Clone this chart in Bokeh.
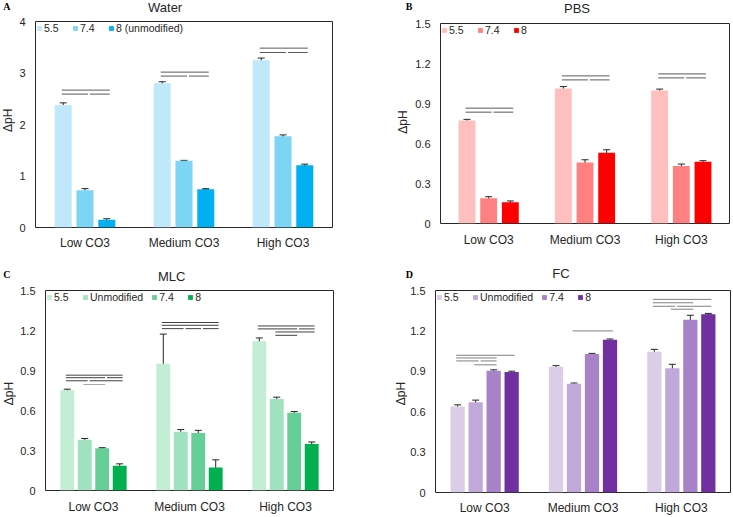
import math
from bokeh.plotting import figure
from bokeh.models import (Range1d, FixedTicker, Whisker, TeeHead, ColumnDataSource,
                          Legend, LegendItem)
from bokeh.core.properties import value
from bokeh.layouts import column, row
from bokeh.embed import file_html
from bokeh.resources import INLINE

categories = ["Low CO3", "Medium CO3", "High CO3"]

# ---------------- Panel A: Water ----------------
water_labels = ["5.5", "7.4", "8 (unmodified)"]
water_55 = [2.38, 2.80, 3.25]
water_74 = [0.725, 1.294, 1.773]
water_8 = [0.15, 0.744, 1.21]
water_55_err = [0.04, 0.03, 0.04]
water_74_err = [0.03, 0.01, 0.025]
water_8_err = [0.02, 0.01, 0.02]
water_ticks = [0, 1, 2, 3, 4]
water_tick_labels = ["0", "1", "2", "3", "4"]
# (group, from series, to series, y, light)
water_sig = [(0, 0, 2, 2.668, 0), (0, 0, 1, 2.59, 0), (0, 1, 2, 2.59, 0),
             (1, 0, 2, 3.017, 0), (1, 0, 1, 2.94, 0), (1, 1, 2, 2.94, 0),
             (2, 0, 2, 3.483, 0), (2, 0, 1, 3.398, 0), (2, 1, 2, 3.398, 0)]

# ---------------- Panel B: PBS ----------------
pbs_labels = ["5.5", "7.4", "8"]
pbs_55 = [0.772, 1.012, 0.997]
pbs_74 = [0.189, 0.458, 0.431]
pbs_8 = [0.159, 0.531, 0.463]
pbs_55_err = [0.009, 0.015, 0.011]
pbs_74_err = [0.012, 0.02, 0.015]
pbs_8_err = [0.01, 0.022, 0.008]
pbs_sig = [(0, 0, 2, 0.865, 0), (0, 0, 1, 0.835, 0), (0, 1, 2, 0.835, 0),
           (1, 0, 2, 1.107, 0), (1, 0, 1, 1.077, 0), (1, 1, 2, 1.077, 0),
           (2, 0, 2, 1.122, 0), (2, 0, 1, 1.092, 0), (2, 1, 2, 1.092, 0)]

# ---------------- Panel C: MLC ----------------
mlc_labels = ["5.5", "Unmodified", "7.4", "8"]
mlc_55 = [0.752, 0.951, 1.119]
mlc_unmod = [0.381, 0.441, 0.687]
mlc_74 = [0.316, 0.431, 0.584]
mlc_8 = [0.186, 0.173, 0.349]
mlc_55_err = [0.008, 0.222, 0.025]
mlc_unmod_err = [0.009, 0.016, 0.013]
mlc_74_err = [0.005, 0.02, 0.008]
mlc_8_err = [0.014, 0.057, 0.015]
mlc_sig = [(0, 0, 3, 0.865, 0), (0, 0, 2, 0.846, 0), (0, 2, 3, 0.846, 0),
           (0, 0, 1, 0.823, 0), (0, 1, 3, 0.823, 0), (0, 1, 2, 0.795, 1),
           (1, 0, 3, 1.26, 0), (1, 0, 3, 1.239, 0), (1, 0, 1, 1.214, 0),
           (1, 1, 2, 1.214, 0), (1, 2, 3, 1.214, 0),
           (2, 0, 3, 1.234, 0), (2, 0, 2, 1.212, 0), (2, 2, 3, 1.212, 0),
           (2, 1, 3, 1.189, 0), (2, 1, 2, 1.164, 0)]

# ---------------- Panel D: FC ----------------
fc_labels = ["5.5", "Unmodified", "7.4", "8"]
fc_55 = [0.639, 0.934, 1.046]
fc_unmod = [0.671, 0.807, 0.922]
fc_74 = [0.905, 1.029, 1.283]
fc_8 = [0.895, 1.134, 1.324]
fc_55_err = [0.012, 0.008, 0.017]
fc_unmod_err = [0.015, 0.006, 0.03]
fc_74_err = [0.006, 0.004, 0.033]
fc_8_err = [0.006, 0.006, 0.006]
fc_sig = [(0, 0, 3, 1.019, 0), (0, 0, 2, 0.999, 0), (0, 0, 1, 0.977, 0),
          (0, 1, 2, 0.977, 0), (0, 1, 2, 0.948, 0),
          (1, 1, 3, 1.200, 0),
          (2, 0, 3, 1.434, 0), (2, 0, 2, 1.409, 0), (2, 0, 1, 1.383, 0),
          (2, 1, 3, 1.383, 0), (2, 1, 2, 1.361, 0)]

ratio_ticks = [0, 0.3, 0.6, 0.9, 1.2, 1.5]
ratio_tick_labels = ["0", "0.3", "0.6", "0.9", "1.2", "1.5"]

FONT = "Liberation Sans"
TXT = "#262626"


def strip(width, height):
    s = figure(width=width, height=height, x_range=Range1d(0, width), y_range=Range1d(0, height),
               output_backend="svg", toolbar_location=None, title=None,
               x_axis_location=None, y_axis_location=None, min_border=0,
               min_border_left=0, min_border_right=0, min_border_top=0, min_border_bottom=0)
    s.outline_line_color = None
    s.grid.visible = False
    s.background_fill_color = "white"
    s.border_fill_color = "white"
    return s


def make_panel(letter, title, labels, means, errs, colors, sig, ticks, tick_labels,
               ymax, width, height, top_h, left_w, borders, bar_w, spacing,
               title_pos, letter_pos, ylab_pos, sig_color, x_standoff):
    bl, br, bt, bb = borders
    mw, mh = width - left_w, height - top_h
    p = figure(width=mw, height=mh, x_range=Range1d(0, 3), y_range=Range1d(0, ymax),
               output_backend="svg", toolbar_location=None, title=None,
               min_border_left=bl, min_border_right=br, min_border_top=bt, min_border_bottom=bb)
    p.xgrid.visible = False
    p.ygrid.visible = False
    p.outline_line_color = "#262626"
    p.outline_line_width = 1
    p.background_fill_color = "white"
    p.border_fill_color = "white"

    n = len(labels)
    offsets = [(k - (n - 1) / 2) * spacing for k in range(n)]
    items = []
    for k in range(n):
        xs = [g + 0.5 + offsets[k] for g in range(3)]
        src = ColumnDataSource(dict(x=xs, top=means[k],
                                    upper=[m + e for m, e in zip(means[k], errs[k])],
                                    lower=[m - e for m, e in zip(means[k], errs[k])]))
        r = p.vbar(x="x", top="top", width=bar_w, bottom=0, source=src,
                   fill_color=colors[k], line_color=None)
        items.append(LegendItem(label=labels[k], renderers=[r]))
        w = Whisker(base="x", upper="upper", lower="lower", source=src, dimension="height",
                    line_color="#262626", line_width=1,
                    upper_head=TeeHead(size=7, line_color="#262626", line_width=1),
                    lower_head=TeeHead(size=7, line_color="#262626", line_width=1))
        p.add_layout(w)

    # significance lines
    x0s, x1s, ys, cols = [], [], [], []
    last_end = {}
    for (g, i, j, y, light) in sig:
        x0 = g + 0.5 + offsets[i] - 0.015
        x1 = g + 0.5 + offsets[j] + 0.03
        key = round(y, 4)
        if key in last_end and x0 < last_end[key] + 0.02:
            x0 = last_end[key] + 0.02
        last_end[key] = x1
        x0s.append(x0); x1s.append(x1); ys.append(y)
        cols.append("#a6a6a6" if light else sig_color)
    p.segment(x0=x0s, y0=ys, x1=x1s, y1=ys, line_color=cols, line_width=1)

    legend = Legend(items=items, orientation="horizontal", location="top_left",
                    margin=1, padding=4, spacing=8, glyph_width=6, glyph_height=6,
                    label_standoff=2, label_height=10, label_text_font=FONT,
                    label_text_font_size="10.5px", label_text_color=TXT,
                    border_line_color=None, background_fill_alpha=0)
    p.add_layout(legend)

    # axes
    p.xaxis.ticker = FixedTicker(ticks=[0.5, 1.5, 2.5])
    p.xaxis.major_label_overrides = {0.5: categories[0], 1.5: categories[1], 2.5: categories[2]}
    p.yaxis.ticker = FixedTicker(ticks=ticks)
    p.yaxis.major_label_overrides = {t: l for t, l in zip(ticks, tick_labels)}
    for ax in (p.xaxis, p.yaxis):
        ax.axis_line_color = None
        ax.major_tick_line_color = None
        ax.minor_tick_line_color = None
        ax.major_tick_out = 0
        ax.major_tick_in = 0
        ax.major_label_text_font = FONT
        ax.major_label_text_color = TXT
    p.xaxis.major_label_text_font_size = "12px"
    p.xaxis.major_label_standoff = x_standoff
    p.yaxis.major_label_text_font_size = "11px"
    p.yaxis.major_label_standoff = 10

    # top strip: letter and title (pixel coordinates of the strip, left-anchored)
    top = strip(width, top_h)
    top.text(x=[title_pos[0]], y=[title_pos[1]], text=[title], text_font=value(FONT),
             text_font_size=value("13px"), text_color=value(TXT),
             text_align=value("left"), text_baseline=value("middle"))
    top.text(x=[letter_pos[0]], y=[letter_pos[1]], text=[letter],
             text_font=value("Liberation Serif"), text_font_style=value("bold"),
             text_font_size=value("10px"), text_color=value("black"),
             text_align=value("left"), text_baseline=value("middle"))
    # left strip: y axis title, reading upward from its lower end
    left = strip(left_w, mh)
    left.text(x=[ylab_pos[0]], y=[ylab_pos[1]], text=["ΔpH"], angle=math.pi / 2,
              text_font=value(FONT), text_font_size=value("12px"), text_color=value(TXT),
              text_align=value("left"), text_baseline=value("middle"))
    return column(top, row(column(left), column(p)))


pA = make_panel("A", "Water", water_labels, [water_55, water_74, water_8],
                [water_55_err, water_74_err, water_8_err],
                ["#BFE9FA", "#7DD5F5", "#00B0F0"], water_sig, water_ticks, water_tick_labels,
                4, 366, 258, 15, 16, (19, 34, 6, 31), 0.172, 0.22,
                (147.5, 7.8), (2.7, 9.3), (7.5, 126.5), "#595959", 8)
pB = make_panel("B", "PBS", pbs_labels, [pbs_55, pbs_74, pbs_8],
                [pbs_55_err, pbs_74_err, pbs_8_err],
                ["#FFBFBF", "#FF8080", "#FF0000"], pbs_sig, ratio_ticks, ratio_tick_labels,
                1.5, 367, 258, 17, 45, (29, 4, 6, 35), 0.175, 0.225,
                (197.5, 9.5), (39.3, 10.7), (36.2, 124.7), "#595959", 9)
pC = make_panel("C", "MLC", mlc_labels, [mlc_55, mlc_unmod, mlc_74, mlc_8],
                [mlc_55_err, mlc_unmod_err, mlc_74_err, mlc_8_err],
                ["#C3EDD4", "#A0E2C0", "#66CF98", "#00B050"], mlc_sig, ratio_ticks,
                ratio_tick_labels, 1.5, 366, 259, 26, 16, (29, 33, 6, 27), 0.145, 0.182,
                (157.5, 8), (2.7, 9.7), (8.3, 112.3), "#404040", 9)
pD = make_panel("D", "FC", fc_labels, [fc_55, fc_unmod, fc_74, fc_8],
                [fc_55_err, fc_unmod_err, fc_74_err, fc_8_err],
                ["#DBCDE8", "#C1A8DA", "#A882C8", "#7030A0"], fc_sig, ratio_ticks,
                ratio_tick_labels, 1.5, 367, 259, 26, 41, (28, 3, 6, 22), 0.145, 0.183,
                (185.8, 11.5), (39.3, 10.2), (34.3, 112.3), "#808080", 8)

layout = column(row(pA, pB), row(pC, pD))
open("out.html", "w").write(file_html(layout, INLINE))
